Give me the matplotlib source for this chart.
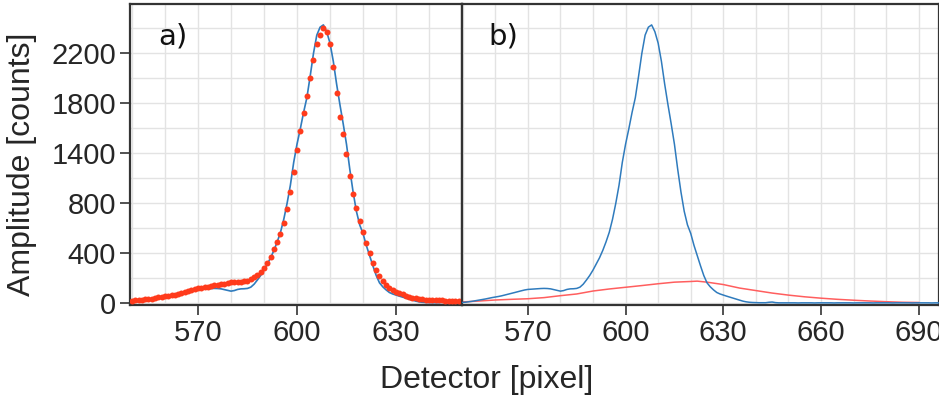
import matplotlib
matplotlib.use("Agg")
import matplotlib.pyplot as plt
from matplotlib.ticker import MultipleLocator, FixedLocator

# Measured detector profile (counts per pixel)
pixel_meas = list(range(550, 697))
counts_meas = [
    8, 10, 14, 18, 23, 28, 33, 38, 44, 50,            # 550-559
    55, 60, 66, 73, 80, 88, 95, 103, 110, 117,        # 560-569
    122, 124, 126, 128, 130, 131, 130, 127, 120, 112, # 570-579
    107, 112, 122, 127, 128, 131, 142, 168, 205, 245, # 580-589
    292, 345, 400, 465, 540, 625, 740, 880, 1040, 1240,  # 590-599
    1400, 1535, 1680, 1810, 2000, 2200, 2360, 2430, 2450, 2390,  # 600-609
    2290, 2130, 1930, 1750, 1580, 1400, 1180, 980, 810, 690,     # 610-619
    615, 510, 420, 330, 245, 180, 145, 118, 95, 82,   # 620-629
    72, 63, 54, 45, 36, 27, 19, 13, 9, 7,             # 630-639
    6, 5, 5, 5, 9, 11, 6, 4, 4, 4,                    # 640-649
    4, 4, 4, 3, 4, 4, 4, 4, 3, 4,                     # 650-659
    4, 4, 4, 4, 3, 4, 4, 4, 4, 4,                     # 660-669
    3, 4, 4, 4, 4, 4, 3, 4, 4, 4,                     # 670-679
    4, 4, 3, 4, 4, 4, 4, 4, 3, 4,                     # 680-689
    4, 4, 4, 4, 3, 4, 4,                              # 690-696
]

# Fitted profile, one value per pixel (panel a)
pixel_fit = list(range(550, 651))
counts_fit = [
    22, 25, 28, 31, 34, 38, 42, 47, 52, 56,           # 550-559
    60, 64, 69, 75, 82, 90, 98, 106, 115, 125,        # 560-569
    133, 138, 143, 147, 152, 157, 162, 167, 172, 178, # 570-579
    184, 188, 190, 190, 192, 200, 215, 232, 252, 278, # 580-589
    315, 357, 410, 480, 540, 610, 705, 830, 980, 1155,   # 590-599
    1345, 1520, 1672, 1824, 1980, 2138, 2279, 2361, 2420, 2390,  # 600-609
    2279, 2077, 1848, 1637, 1490, 1311, 1123, 962, 836, 724,     # 610-619
    630, 528, 440, 355, 293, 240, 192, 162, 137, 118, # 620-629
    102, 92, 79, 67, 56, 48, 43, 38, 35, 32,          # 630-639
    30, 28, 27, 26, 25, 24, 24, 23, 23, 22,           # 640-649
    22,                                               # 650
]

# Broad profile (panel b)
pixel_broad = [550, 555, 560, 565, 570, 575, 580, 585, 590, 595, 600, 605,
               610, 615, 620, 622, 625, 630, 635, 640, 645, 650, 655, 660,
               665, 670, 675, 680, 685, 690]
counts_broad = [12, 20, 29, 35, 40, 50, 67, 82, 108, 126, 141, 156,
                172, 186, 192, 195, 186, 165, 134, 112, 90, 72, 57, 45,
                35, 27, 20, 14, 9, 7]

# Amplitude axis: major ticks every 440 counts, grid every 220
y_tick_pos = [0, 440, 880, 1320, 1760, 2200]
y_tick_labels = ["0", "400", "800", "1400", "1800", "2200"]
x_ticks_a = [570, 600, 630]
x_ticks_b = [570, 600, 630, 660, 690]

BLUE = "#2f7bbd"
RED_DOT = "#ff3b1c"
RED_LINE = "#ff5e5e"
FRAME = "#333333"
GRID = "#e3e3e3"
TICK_FONT = "Liberation Sans"
TICK_SIZE = 21

fig = plt.figure(figsize=(9.39, 4.01), dpi=100)
ax_a = fig.add_axes([130 / 939, 1 - 305 / 401, 332 / 939, 301 / 401])
ax_b = fig.add_axes([462 / 939, 1 - 305 / 401, 477 / 939, 301 / 401], sharey=ax_a)

for ax in (ax_a, ax_b):
    ax.set_axisbelow(True)
    ax.xaxis.set_minor_locator(MultipleLocator(10))
    ax.yaxis.set_minor_locator(MultipleLocator(220))
    ax.grid(which="both", color=GRID, linewidth=1.0)
    for s in ax.spines.values():
        s.set_color(FRAME)
        s.set_linewidth(1.6)
    ax.tick_params(axis="both", which="minor", length=0)
    ax.tick_params(axis="both", which="major", direction="out", length=7,
                   width=1.2, color=FRAME, labelcolor="#262626", pad=3)

# Panel a: measured line with fitted points
ax_a.plot(pixel_meas, counts_meas, color=BLUE, lw=1.2, zorder=3)
ax_a.plot(pixel_fit, counts_fit, "o", color=RED_DOT, ms=4.3, mew=0, zorder=4)
ax_a.set_xlim(549.4, 650)
ax_a.set_ylim(-15, 2634)
ax_a.xaxis.set_major_locator(FixedLocator(x_ticks_a))
ax_a.yaxis.set_major_locator(FixedLocator(y_tick_pos))
ax_a.set_yticklabels(y_tick_labels, fontsize=TICK_SIZE, family=TICK_FONT)
ax_a.set_xticklabels([str(v) for v in x_ticks_a], fontsize=TICK_SIZE,
                     family=TICK_FONT)

# Panel b: measured line with broad profile
ax_b.plot(pixel_meas, counts_meas, color=BLUE, lw=1.1, zorder=3)
ax_b.plot(pixel_broad, counts_broad, color=RED_LINE, lw=1.1, zorder=2)
ax_b.set_xlim(549.8, 696.2)
ax_b.xaxis.set_major_locator(FixedLocator(x_ticks_b))
ax_b.set_xticklabels([str(v) for v in x_ticks_b], fontsize=TICK_SIZE,
                     family=TICK_FONT)
ax_b.tick_params(axis="y", which="both", left=False, labelleft=False)

fig.text(158 / 939, 1 - 44 / 401, "a)", fontsize=21, family="DejaVu Sans",
         color="#111111")
fig.text(488 / 939, 1 - 44 / 401, "b)", fontsize=21, family="DejaVu Sans",
         color="#111111")

fig.text(487 / 939, 1 - 380 / 401, "Detector [pixel]", ha="center", va="center",
         fontsize=23, family=TICK_FONT, color="#262626")
fig.text(22 / 939, 1 - 164 / 401, "Amplitude [counts]", ha="center", va="center",
         rotation=90, fontsize=23, family=TICK_FONT, color="#262626")

fig.savefig("out.png", dpi=100)
